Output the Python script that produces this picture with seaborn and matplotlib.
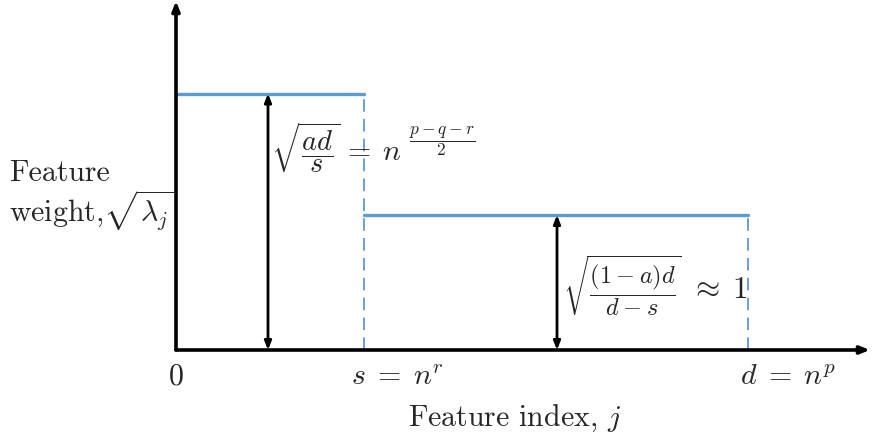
import matplotlib
matplotlib.use("Agg")
import matplotlib.pyplot as plt
import seaborn as sns
import pandas as pd

# ---- data (schematic) ----
breakpoints = [0.0, 1.0, 3.04]      # 0, s, d
levels = [1.9, 1.0]                 # sqrt(ad/s) on [0,s), ~1 on [s,d)
x_tick_labels = [r"$0$", r"$s\;=\;n^r$", r"$d\;=\;n^p$"]
x_label = r"Feature index, $j$"
y_label = "Feature\nweight,$\\sqrt{\\lambda_j}$"
formula_high_root = r"$\sqrt{\dfrac{ad}{s}}$"
formula_high_rel = r"$=\;n$"
formula_high_exp = r"$\dfrac{p-q-r}{2}$"
formula_low_root = r"$\sqrt{\dfrac{(1-a)d}{d-s}}$"
formula_low_rel = r"$\approx\;1$"

sns.set_style("white")
plt.rcParams["mathtext.fontset"] = "cm"
plt.rcParams["font.family"] = ["cmr10", "DejaVu Serif"]
plt.rcParams["axes.formatter.use_mathtext"] = True

W, H = 872, 442
fig = plt.figure(figsize=(W / 100, H / 100), dpi=100)
ax = fig.add_axes([0, 0, 1, 1])
ax.set_axis_off()

ux, uy = 188.0, 135.0   # pixels per data unit
x0, y0 = 176.0, 350.0   # pixel location of origin
ax.set_xlim(-x0 / ux, (W - x0) / ux)
ax.set_ylim(-(H - y0) / uy, y0 / uy)

blue = "#5B9BD5"
rows = []
for i, lv in enumerate(levels):
    rows.append({"x": breakpoints[i], "y": lv, "seg": i})
    rows.append({"x": breakpoints[i + 1], "y": lv, "seg": i})
df = pd.DataFrame(rows)
sns.lineplot(data=df, x="x", y="y", units="seg", estimator=None, color=blue,
             lw=2.4, ax=ax)

# dashed verticals
ax.vlines([breakpoints[1]], 0, levels[0], colors=blue, lw=1.3, linestyles=(0, (7, 4)))
ax.vlines([breakpoints[2]], 0, levels[1], colors=blue, lw=1.3, linestyles=(0, (7, 4)))

# axes arrows
xend = (870 - x0) / ux
ytop = (y0 - 1) / uy
for xy in [(xend, 0), (0, ytop)]:
    ax.annotate("", xy=xy, xytext=(0, 0),
                arrowprops=dict(arrowstyle="-|>,head_length=0.55,head_width=0.22", lw=2.6,
                                color="black", shrinkA=0, shrinkB=0))

# double arrows
xa1 = (268 - x0) / ux
xa2 = (557 - x0) / ux
for xa, lv in [(xa1, levels[0]), (xa2, levels[1])]:
    ax.annotate("", xy=(xa, lv), xytext=(xa, 0),
                arrowprops=dict(arrowstyle="<|-|>,head_length=0.5,head_width=0.2", lw=2.0,
                                color="black", shrinkA=0, shrinkB=0))


def fx(px):
    return px / W


def fy(py):
    return 1 - py / H


fs = 21.5
# tick-like labels
fig.text(fx(176), fy(377), x_tick_labels[0], ha="center", va="center", fontsize=fs)
fig.text(fx(397), fy(377), x_tick_labels[1], ha="center", va="center", fontsize=fs)
fig.text(fx(788), fy(377), x_tick_labels[2], ha="center", va="center", fontsize=fs)
fig.text(fx(515), fy(418), x_label, ha="center", va="center", fontsize=fs)
fig.text(fx(9), fy(197), y_label, ha="left", va="center", fontsize=fs, linespacing=1.05)

# formula for the high level
fig.text(fx(271), fy(148), formula_high_root, ha="left", va="center", fontsize=20.5)
fig.text(fx(342), fy(160), formula_high_rel, ha="left", va="baseline", fontsize=fs)
fig.text(fx(409), fy(141), formula_high_exp, ha="left", va="center", fontsize=12.5)

# formula for the low level
fig.text(fx(563), fy(286), formula_low_root, ha="left", va="center", fontsize=17.5)
fig.text(fx(690), fy(298), formula_low_rel, ha="left", va="baseline", fontsize=22.5)

fig.savefig("out.png", dpi=100)
